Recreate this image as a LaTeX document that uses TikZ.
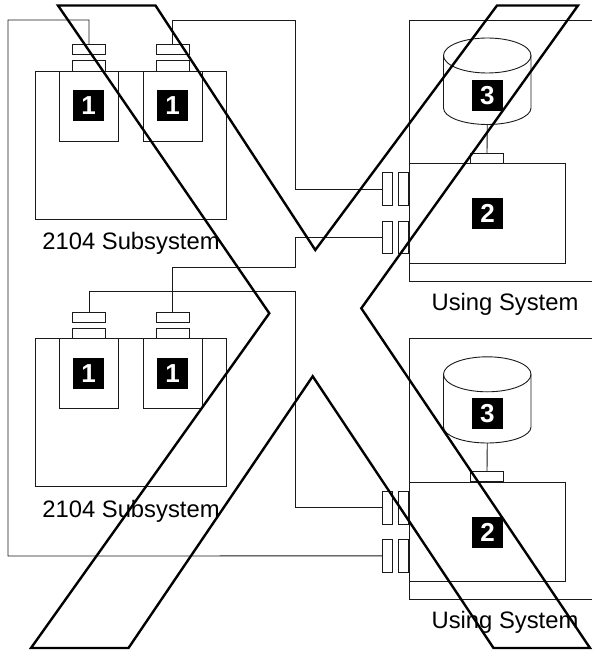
\documentclass[tikz,border=0pt]{standalone}
\usepackage{fontspec}
\setmainfont{Liberation Sans}
\usetikzlibrary{positioning,calc}
\definecolor{cLine}{HTML}{1A1A1A}
\tikzset{
  wire/.style    = {cLine, line width=0.9pt},
  blk/.style     = {draw=cLine, line width=0.9pt, inner sep=0pt, outer sep=0pt, anchor=north west},
  subsys/.style  = {blk, minimum width=191.5pt, minimum height=148pt},
  module/.style  = {blk, minimum width=59pt, minimum height=70pt},
  tabv/.style    = {blk, minimum width=33pt, minimum height=10.5pt},
  tabh/.style    = {blk, minimum width=10.5pt, minimum height=32.8pt},
  host/.style    = {blk, minimum width=156.5pt, minimum height=99.5pt},
  badge/.style   = {fill=black, text=white, inner sep=0pt, minimum size=31pt,
                    font=\fontsize{26}{30}\selectfont\bfseries},
  lbl/.style     = {anchor=base, inner sep=0pt, font=\fontsize{23.8}{28}\selectfont},
  cross/.style   = {black, line width=2.4pt, line join=miter},
}

\begin{document}
\begin{tikzpicture}[x=1pt,y=-1pt]
  \useasboundingbox (0,0) rectangle (592,652);
  % upper subsystem
  \node[subsys] (subA) at (35,71) {};
  \node[module] (modA) at (59,71) {};
  \node[module] (modB) at (143,71) {};
  \node[tabv] (tabAi) at (72.5,60.5) {};
  \node[tabv] (tabAo) at (72.5,44) {};
  \node[tabv] (tabBi) at (156,60.5) {};
  \node[tabv] (tabBo) at (156,44) {};
  \node[badge] (numA) at (88.5,105.5) {1};
  \node[badge] (numB) at (172.5,105.5) {1};
  \node[lbl] (lblA) at (131,249) {2104 Subsystem};
  % lower subsystem
  \node[subsys] (subB) at (35,338.5) {};
  \node[module] (modC) at (59,338.5) {};
  \node[module] (modD) at (143,338.5) {};
  \node[tabv] (tabCi) at (72.5,328) {};
  \node[tabv] (tabCo) at (72.5,312) {};
  \node[tabv] (tabDi) at (156,328) {};
  \node[tabv] (tabDo) at (156,312) {};
  \node[badge] (numC) at (88.5,373.5) {1};
  \node[badge] (numD) at (172.5,373.5) {1};
  \node[lbl] (lblB) at (131,517) {2104 Subsystem};
  % upper using system
  \draw[wire] (592,20) -- (409,20) -- (409,281) -- (592,281);
  \node[host] (hostA) at (409,163.5) {};
  \node[tabh] (tabEi) at (398,172.7) {};
  \node[tabh] (tabEo) at (382,172.7) {};
  \node[tabh] (tabFi) at (398,221) {};
  \node[tabh] (tabFo) at (382,221) {};
  \node[tabv] (tabG) at (470.5,153) {};
  \node[badge] (numE) at (487.5,213.3) {2};
  \draw[wire] (443.5,55.5) -- (443.5,108) arc[start angle=180, end angle=360, x radius=43.75pt, y radius=16.5pt] -- (531,55.5);
  \draw[wire] (487.25,55.5) ellipse [x radius=43.75pt, y radius=17.5pt];
  \coordinate (cylA) at (487.25,124.5);
  \node[badge] (numF) at (487.25,95.2) {3};
  \node[lbl] (lblC) at (505,310.7) {Using System};
  % lower using system
  \draw[wire] (592,338.7) -- (409,338.7) -- (409,599.3) -- (592,599.3);
  \node[host] (hostB) at (409,482) {};
  \node[tabh] (tabHi) at (398,491.3) {};
  \node[tabh] (tabHo) at (382,491.3) {};
  \node[tabh] (tabIi) at (398,539.5) {};
  \node[tabh] (tabIo) at (382,539.5) {};
  \node[tabv] (tabJ) at (470.5,471.3) {};
  \node[badge] (numG) at (487.5,532) {2};
  \draw[wire] (443.5,374.3) -- (443.5,427) arc[start angle=180, end angle=360, x radius=43.75pt, y radius=16pt] -- (531,374.3);
  \draw[wire] (487.25,374.3) ellipse [x radius=43.75pt, y radius=17.5pt];
  \coordinate (cylB) at (487.25,443);
  \node[badge] (numH) at (487.25,413.5) {3};
  \node[lbl] (lblD) at (505,628.7) {Using System};
  % cables
  \coordinate (outerT) at (8,20);
  \coordinate (outerB) at (8,556);
  \coordinate (riseA) at (295.5,20);
  \coordinate (riseB) at (295.5,267);
  \coordinate (riseC) at (295.5,291);
  \draw[wire] (tabAo.north) |- (outerT) -- (outerB) -- (tabIo.west);
  \draw[wire] (tabBo.north) |- (riseA) |- (tabEo.west);
  \draw[wire] (tabFo.west) -| (riseB) -| (tabDo.north);
  \draw[wire] (tabCo.north) |- (riseC) |- (tabHo.west);
  \draw[wire] (cylA) -- (tabG.north);
  \draw[wire] (cylB) -- (tabJ.north);
  % big cross
  \draw[cross] (58,5.5) -- (155.5,5.5) -- (315.3,250) -- (497,5.5) -- (578,5.5)
    -- (361.3,308.3) -- (590,648) -- (493.5,648) -- (312.7,376.3) -- (128.5,648)
    -- (31,648) -- (269.3,313.3) -- cycle;
\end{tikzpicture}
\end{document}
